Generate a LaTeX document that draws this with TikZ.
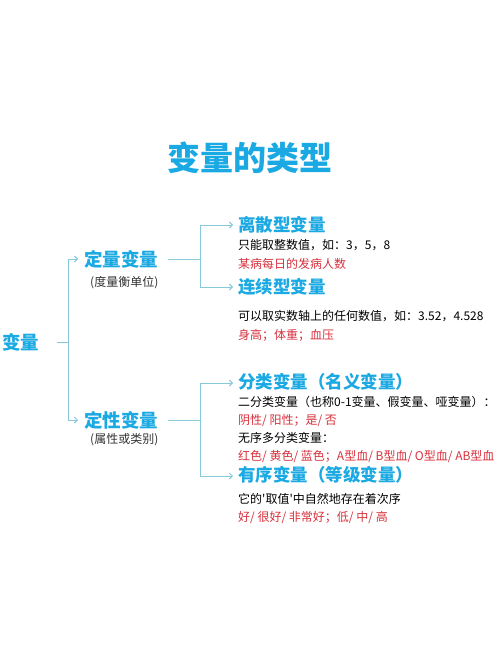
\documentclass[tikz,border=0pt]{standalone}
\usepackage{fontspec}
\setmainfont{Noto Sans CJK SC}
\newfontfamily\aposfont{Noto Sans CJK SC}[Ligatures=ResetAll]
\usetikzlibrary{arrows.meta}
\definecolor{hd}{HTML}{1AA9E2}
\definecolor{rd}{HTML}{D8313C}
\definecolor{ln}{HTML}{86C9DA}
\newcommand{\apo}{{\aposfont\char39}}
\begin{document}
\begin{tikzpicture}[x=1pt,y=-1pt,
  title/.style={inner sep=0,text=hd,font=\bfseries\fontsize{33}{33}\selectfont},
  head/.style={anchor=west,inner sep=0,text=hd,font=\bfseries\fontsize{18.5}{19}\selectfont},
  shead/.style={anchor=west,inner sep=0,text=hd,font=\bfseries\fontsize{17.5}{18}\selectfont},
  sub/.style={anchor=west,inner sep=0,text=black!80,font=\fontsize{12}{12}\selectfont},
  body/.style={anchor=west,inner sep=0,text=black,font=\fontsize{12}{12}\selectfont},
  redt/.style={anchor=west,inner sep=0,text=rd,font=\fontsize{12}{12}\selectfont},
  conn/.style={draw=ln,line width=1pt},
  arr/.style={conn,-{Straight Barb[length=3pt,width=6pt]}}]
\useasboundingbox[fill=white] (0,0) rectangle (500,652);

\node[title] (t) at (250,158) {变量的类型};

\node[head] (root) at (2,342) {变量};
\coordinate (j0) at (68,342);

\node[head] (quant) at (84,259) {定量变量};
\node[sub] (quants) at (90,283) {(度量衡单位)};
\node[head] (qual) at (84,420) {定性变量};
\node[sub] (quals) at (90,440) {(属性或类别)};

\coordinate (j1) at (200,259);
\coordinate (j2) at (200,420);

\node[shead] (disc) at (238,225) {离散型变量};
\node[body] (disc1) at (238,245) {只能取整数值，如：3，5，8};
\node[redt] (disc2) at (238,264) {某病每日的发病人数};
\node[shead] (cont) at (238,287) {连续型变量};
\node[body] (cont1) at (238,316) {可以取实数轴上的任何数值，如：3.52，4.528};
\node[redt] (cont2) at (238,335) {身高；体重；血压};

\node[shead] (nom) at (238,382) {分类变量（名义变量）};
\node[body] (nom1) at (238,402) {二分类变量（也称0-1变量、假变量、哑变量）：};
\node[redt] (nom2) at (238,421) {阴性/ 阳性；是/ 否};
\node[body] (nom3) at (238,438) {无序多分类变量：};
\node[redt] (nom4) at (238,457) {红色/ 黄色/ 蓝色；A型血/ B型血/ O型血/ AB型血};
\node[shead] (ord) at (238,475) {有序变量（等级变量）};
\node[body] (ord1) at (238,499) {它的\apo 取值\apo 中自然地存在着次序};
\node[redt] (ord2) at (238,518) {好/ 很好/ 非常好；低/ 中/ 高};

\draw[conn] ([xshift=18pt]root.east) -- (j0);
\draw[arr] (j0) |- ([xshift=-6pt]quant.west);
\draw[arr] (j0) |- ([xshift=-6pt]qual.west);

\draw[conn] ([xshift=10pt]quant.east) -- (j1);
\draw[arr] (j1) |- ([xshift=-5pt]disc.west);
\draw[arr] (j1) |- ([xshift=-5pt]cont.west);

\draw[conn] ([xshift=10pt]qual.east) -- (j2);
\draw[arr] (j2) |- ([xshift=-5pt,yshift=-1pt]nom.west);
\draw[arr] (j2) |- ([xshift=-5pt,yshift=-1pt]ord.west);
\end{tikzpicture}
\end{document}
